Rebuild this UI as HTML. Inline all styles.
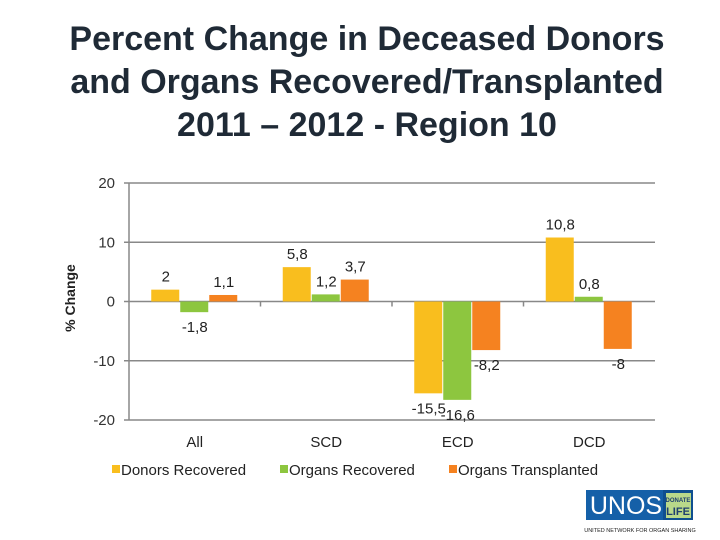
<!DOCTYPE html>
<html><head><meta charset="utf-8"><style>
body{margin:0;width:720px;height:540px;background:#fff;overflow:hidden;font-family:"Liberation Sans",sans-serif}
#title{position:absolute;left:0;top:18px;width:734px;text-align:center;font-weight:bold;font-size:34px;line-height:43px;color:#1f2a36}
svg{position:absolute;left:0;top:0}
</style></head><body>
<div id="title">Percent Change in Deceased Donors<br>and Organs Recovered/Transplanted<br>2011 – 2012 - Region 10</div>
<svg id="chart" width="720" height="540"></svg>
<script>
const categories=["All","SCD","ECD","DCD"];
const seriesNames=["Donors Recovered","Organs Recovered","Organs Transplanted"];
const donorsRecovered=[2,5.8,-15.5,10.8];
const organsRecovered=[-1.8,1.2,-16.6,0.8];
const organsTransplanted=[1.1,3.7,-8.2,-8];
const labels=[["2","5,8","-15,5","10,8"],["-1,8","1,2","-16,6","0,8"],["1,1","3,7","-8,2","-8"]];
const yTicks=[20,10,0,-10,-20];
const colors=["#F9BE1E","#8DC63F","#F58220"];
const series=[donorsRecovered,organsRecovered,organsTransplanted];
const svg=document.getElementById('chart');
const NS="http://www.w3.org/2000/svg";
const x0=129,x1=655,yTop=183,yBot=420,vMax=20,vMin=-20;
const y=v=>yTop+(vMax-v)/(vMax-vMin)*(yBot-yTop);
const cw=(x1-x0)/categories.length;
function mk(t,a,txt){const e=document.createElementNS(NS,t);for(const k in a)e.setAttribute(k,a[k]);if(txt!==undefined)e.textContent=txt;svg.appendChild(e);return e;}
yTicks.forEach(t=>{
 const g=mk('line',{x1:x0-5,x2:x1,y1:y(t),y2:y(t),stroke:'#888','stroke-width':1.5});
 
 
 const l=mk('text',{x:x0-14,y:y(t)+5,'text-anchor':'end','font-size':15,fill:'#333'},String(t));
 
 
});
const ax=mk('line',{x1:x0,x2:x0,y1:yTop,y2:yBot,stroke:'#888','stroke-width':1.5});


for(let i=1;i<categories.length;i++){
 const tk=mk('line',{x1:x0+cw*i,x2:x0+cw*i,y1:y(0),y2:y(0)+5,stroke:'#888','stroke-width':1.5});
 
 
}
const bw=29,pad=(cw-3*bw)/2;
series.forEach((s,si)=>{
 s.forEach((v,ci)=>{
  const bx=x0+cw*ci+pad+si*bw;
  const top=Math.min(y(v),y(0)),h=Math.abs(y(v)-y(0));
  const r=mk('rect',{x:bx,y:top,width:bw-1,height:h,fill:colors[si]});
  
  
  const ly=v>=0?y(v)-8:y(v)+20;
  const t=mk('text',{x:bx+bw/2,y:ly,'text-anchor':'middle','font-size':15,fill:'#222'},labels[si][ci]);
  
  
 });
});
categories.forEach((c,ci)=>{
 const t=mk('text',{x:x0+cw*(ci+0.5),y:447,'text-anchor':'middle','font-size':15,fill:'#222'},c);
 
 
});
const yt=mk('text',{x:0,y:0,'text-anchor':'middle','font-size':14,'font-weight':'bold',fill:'#222',transform:'translate(75,298) rotate(-90)'},'% Change');


const lx=[112,280,449];
seriesNames.forEach((n,i)=>{
 const r=mk('rect',{x:lx[i],y:465,width:8,height:8,fill:colors[i]});
 
 
 const t=mk('text',{x:lx[i]+9,y:475,'font-size':15,fill:'#222'},n);
 
 
});
</script>
<svg width="720" height="540">
<rect x="586" y="490" width="80" height="30" fill="#1560a8"/>
<text x="626" y="514" text-anchor="middle" font-size="25" fill="#fff" font-family="Liberation Sans">UNOS</text>
<rect x="663" y="490" width="30" height="30" fill="#0f4f8f"/>
<rect x="666" y="493" width="25" height="25" fill="#b9d98a"/>
<text x="678" y="502" text-anchor="middle" font-size="6" font-weight="bold" fill="#1f3f6f">DONATE</text>
<text x="678" y="515" text-anchor="middle" font-size="11" font-weight="bold" fill="#1f3f6f">LIFE</text>
<text x="640" y="532" text-anchor="middle" font-size="5.5" fill="#222">UNITED NETWORK FOR ORGAN SHARING</text>
</svg>
</body></html>
